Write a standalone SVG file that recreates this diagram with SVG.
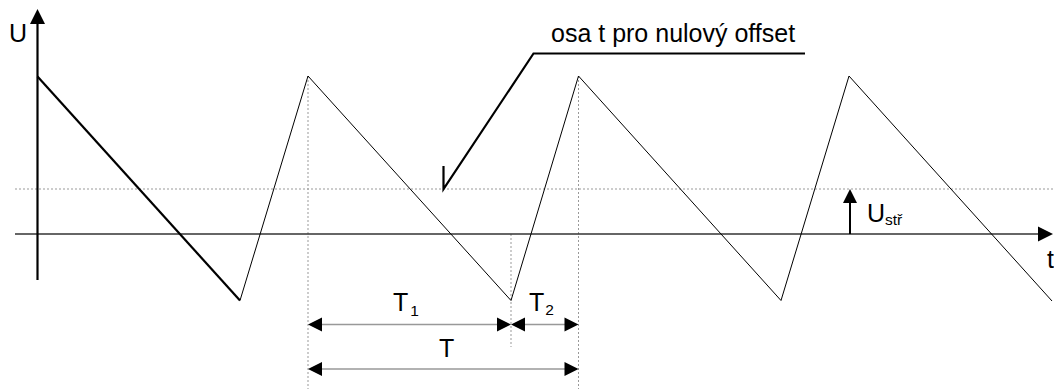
<svg xmlns="http://www.w3.org/2000/svg" width="1054" height="389" viewBox="0 0 1054 389">
<style>
.txt{font-family:"Liberation Sans",Arial,sans-serif;font-size:25px;fill:#000}
.sub{font-size:15.5px}
.dot{stroke:#999;stroke-width:1;stroke-dasharray:2,2;fill:none}
.thin{stroke:#000;stroke-width:1;fill:none}
.thick{stroke:#000;stroke-width:2.2;fill:none}
.dim{stroke:#999;stroke-width:1.5;fill:none}
.head{fill:#000;stroke:none}
</style>
<rect width="1054" height="389" fill="#fff"/>
<g id="guides">
<line class="dot" x1="15" y1="189" x2="1054" y2="189"/>
<line class="dot" x1="308" y1="76" x2="308" y2="389"/>
<line class="dot" x1="578.5" y1="76" x2="578.5" y2="389"/>
<line class="dot" x1="511" y1="234" x2="511" y2="347"/>
</g>
<g id="axes">
<line x1="15" y1="234" x2="1040" y2="234" stroke="#333" stroke-width="1.3"/>
<polygon class="head" points="1038,226.5 1053,234 1038,241.5"/>
<line x1="37.5" y1="22" x2="37.5" y2="280" stroke="#000" stroke-width="2.2"/>
<polygon class="head" points="30,24 37.5,9 45,24"/>
<text class="txt" x="9" y="42">U</text>
<text class="txt" x="1047" y="268">t</text>
</g>
<g id="waveform">
<polyline class="thick" points="37.5,76.5 240,300.5"/>
<polyline class="thin" points="240,300.5 308,76 511,300.5 578.5,76 781,300.5 849,76 1052,301"/>
</g>
<g id="offset">
<line x1="850" y1="234" x2="850" y2="201" stroke="#000" stroke-width="2"/>
<polygon class="head" points="843,203 850,189 857,203"/>
<text class="txt" x="867" y="222">U<tspan class="sub" dy="3">stř</tspan></text>
</g>
<g id="leader">
<polyline class="thick" points="443.5,166 443.5,189 533.5,53.5 805,53.5"/>
<text class="txt" x="551" y="41.5">osa t pro nulový offset</text>
</g>
<g id="dimensions">
<line class="dim" x1="320" y1="324.5" x2="500" y2="324.5"/>
<polygon class="head" points="308,324.5 322,317.5 322,331.5"/>
<polygon class="head" points="511,324.5 497,317.5 497,331.5"/>
<line class="dim" x1="522" y1="324.5" x2="566" y2="324.5"/>
<polygon class="head" points="511,324.5 525,317.5 525,331.5"/>
<polygon class="head" points="578.5,324.5 564.5,317.5 564.5,331.5"/>
<line class="dim" x1="320" y1="369" x2="566" y2="369"/>
<polygon class="head" points="308,369 322,362 322,376"/>
<polygon class="head" points="578.5,369 564.5,362 564.5,376"/>
<text class="txt" x="393" y="311">T<tspan class="sub" dx="2" dy="5">1</tspan></text>
<text class="txt" x="529" y="311">T<tspan class="sub" dx="1" dy="4">2</tspan></text>
<text class="txt" x="439" y="357">T</text>
</g>
</svg>
